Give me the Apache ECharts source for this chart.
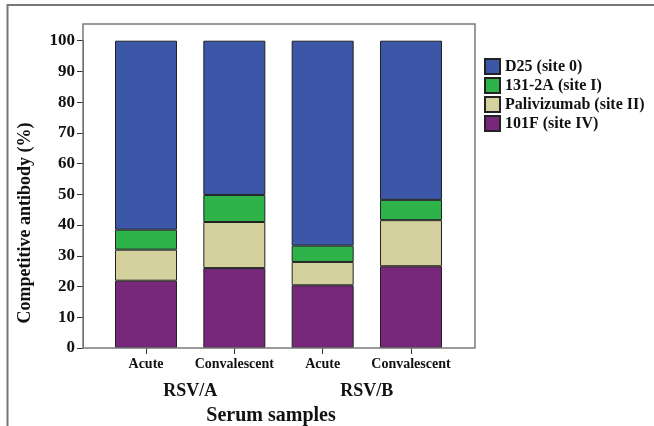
<!DOCTYPE html>
<html>
<head>
<meta charset="utf-8">
<script src="https://cdn.jsdelivr.net/npm/echarts@6/dist/echarts.min.js"></script>
<style>
html,body{margin:0;padding:0;background:#fff;}
#main{width:654px;height:426px;}
</style>
</head>
<body>
<div id="main"></div>
<script>
const categories = ['Acute', 'Convalescent', 'Acute', 'Convalescent'];
const groups = ['RSV/A', 'RSV/B'];
const seriesNames = ['101F (site IV)', 'Palivizumab (site II)', '131-2A (site I)', 'D25 (site 0)'];
const legendOrder = ['D25 (site 0)', '131-2A (site I)', 'Palivizumab (site II)', '101F (site IV)'];
const v101F = [21.9, 26.0, 20.4, 26.6];
const vPalivizumab = [10.1, 15.0, 7.6, 15.0];
const v1312A = [6.5, 8.8, 5.3, 6.6];
const vD25 = [61.5, 50.2, 66.7, 51.8];
const yAxisName = 'Competitive antibody (%)';
const xAxisName = 'Serum samples';

const colors = ['#77287b', '#d5d19e', '#2db34a', '#3c56a8'];
const values = [v101F, vPalivizumab, v1312A, vD25];
const FONT = "'Liberation Serif', 'DejaVu Serif', serif";

const chart = echarts.init(document.getElementById('main'), null, {renderer: 'canvas'});
chart.setOption({
  backgroundColor: '#fff',
  animation: false,
  textStyle: {fontFamily: FONT},
  grid: {left: 101.85, top: 40.7, width: 353.3, height: 307.3, containLabel: false, outerBoundsMode: 'none'},
  legend: {
    data: legendOrder,
    orient: 'vertical',
    left: 484, top: 58, padding: 0,
    itemWidth: 15, itemHeight: 15, itemGap: 2,
    icon: 'rect',
    textStyle: {fontFamily: FONT, fontWeight: 'bold', fontSize: 16, lineHeight: 15, color: '#111'}
  },
  xAxis: [
    {
      type: 'category', data: categories, gridIndex: 0, position: 'bottom',
      axisLine: {show: false},
      axisTick: {show: true, alignWithLabel: true, length: 6, lineStyle: {color: '#333'}},
      axisLabel: {interval: 0, fontFamily: FONT, fontWeight: 'bold', fontSize: 14, color: '#111', margin: 9},
      name: xAxisName, nameLocation: 'middle', nameGap: 58,
      nameTextStyle: {fontFamily: FONT, fontWeight: 'bold', fontSize: 20, color: '#111', padding: [0, 15, 0, 0]}
    },
    {
      type: 'category', data: groups, gridIndex: 0, position: 'bottom', offset: 26,
      axisLine: {show: false}, axisTick: {show: false},
      axisLabel: {interval: 0, fontFamily: FONT, fontWeight: 'bold', fontSize: 18, color: '#111', margin: 8}
    }
  ],
  yAxis: {
    type: 'value', min: 0, max: 100, interval: 10, offset: 18.85,
    axisLine: {show: true, lineStyle: {color: '#555', width: 1}},
    axisTick: {show: true, length: 6, lineStyle: {color: '#333'}},
    splitLine: {show: false},
    axisLabel: {fontFamily: FONT, fontWeight: 'bold', fontSize: 17, color: '#111', margin: 8}
  },
  series: seriesNames.map((name, i) => ({
    name: name,
    type: 'bar',
    stack: 'total',
    xAxisIndex: 0,
    barWidth: 62,
    data: values[i],
    itemStyle: {color: colors[i], borderColor: '#222', borderWidth: 1}
  })),
  graphic: [
    {type: 'rect', silent: true, z: 10, shape: {x: 83, y: 24, width: 392, height: 324},
      style: {fill: 'none', stroke: '#7a7a7a', lineWidth: 1.5}},
    {type: 'polyline', silent: true, shape: {points: [[7.5, 426], [7.5, 5], [654, 5]]},
      style: {fill: 'none', stroke: '#777', lineWidth: 2}},
    {type: 'text', silent: true, x: 25, y: 223, rotation: Math.PI / 2,
      style: {text: yAxisName, font: "bold 18px 'Liberation Serif', serif", fill: '#111', align: 'center', verticalAlign: 'middle'}}
  ]
});
</script>
</body>
</html>
